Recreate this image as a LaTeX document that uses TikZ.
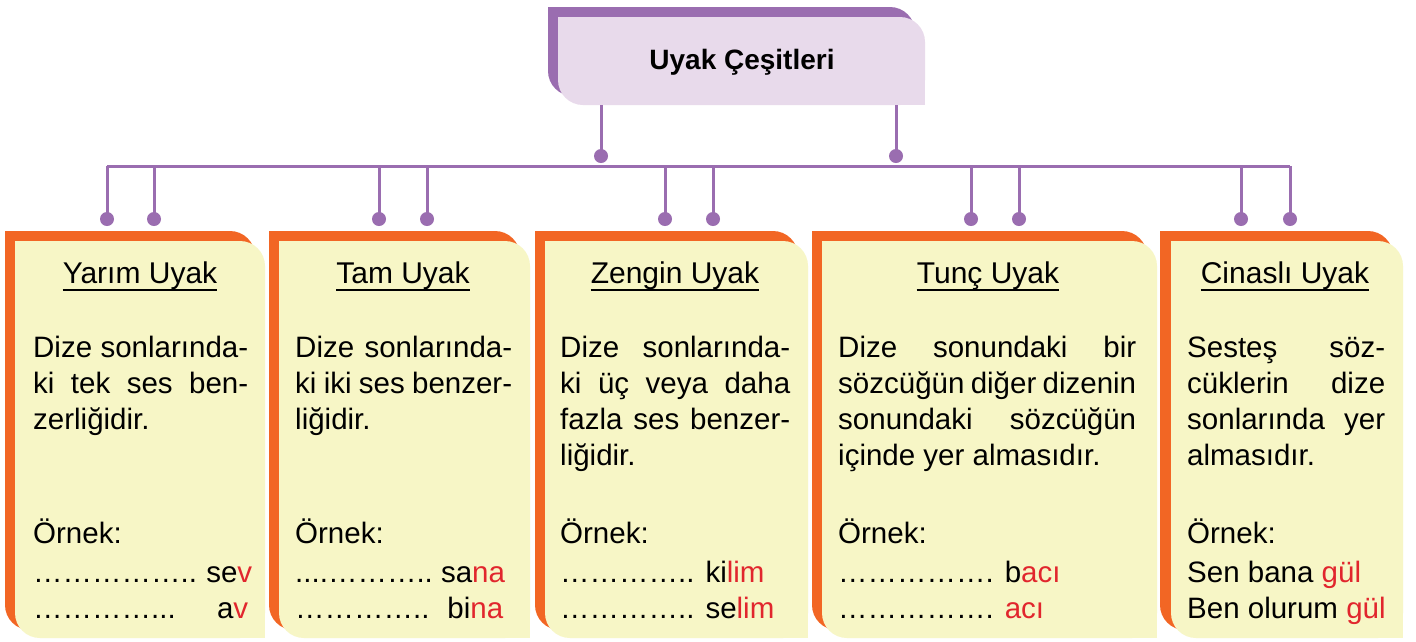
\documentclass[tikz,border=0pt]{standalone}
\usepackage{fontspec}
\setmainfont{Liberation Sans}
\definecolor{purp}{HTML}{9A6DB0}
\definecolor{lpurp}{HTML}{E8DAEB}
\definecolor{orng}{HTML}{F26624}
\definecolor{ylw}{HTML}{F7F6C6}
\definecolor{rd}{HTML}{E1262D}
\newcommand\cornerbox[5]{%
  \fill[#1,rounded corners=25pt] (#2,#3) rectangle (#4,#5);
  \fill[#1] (#2,#3) rectangle ({#2+30},{#3+30});
  \fill[#1] ({#4-30},{#5-30}) rectangle (#4,#5);}
\newcommand\rw[1]{\textcolor{rd}{#1}}
\begin{document}
\begin{tikzpicture}[x=1pt,y=-1pt,
  ln/.style={draw=purp,line width=3pt},
  dotc/.style={fill=purp},
  body/.style={anchor=base west,inner sep=0pt,font=\fontsize{29.5}{36}\selectfont},
  ttl/.style={anchor=base,inner sep=0pt,font=\fontsize{30}{36}\selectfont},
  hdr/.style={inner sep=0pt,font=\fontsize{28}{34}\selectfont\bfseries}]
\useasboundingbox (0,0) rectangle (1416,641);
\fill[white] (0,0) rectangle (1416,641);

% header box
\cornerbox{purp}{548}{7}{915}{96}
\cornerbox{lpurp}{558}{17}{925}{105}
\node[hdr] (head) at (742,62) {Uyak Çeşitleri};

% connectors
\coordinate (hl) at (601,105);
\coordinate (hr) at (896,105);
\coordinate (hld) at (601,156);
\coordinate (hrd) at (896,156);
\draw[ln] (hl) -- (hld);
\draw[ln] (hr) -- (hrd);
\fill[dotc] (hld) circle[radius=7];
\fill[dotc] (hrd) circle[radius=7];
\coordinate (barL) at (107,166);
\coordinate (barR) at (1290,166);
\draw[ln] (barL) -- (barR);
\foreach \x [count=\i] in {107,154,379,427,665,713,971,1019,1241,1290}{
  \coordinate (t\i) at (\x,166);
  \coordinate (d\i) at (\x,219);
  \draw[ln] (t\i) -- (d\i);
  \fill[dotc] (d\i) circle[radius=7];
}

% cards
\cornerbox{orng}{5}{231}{255}{630}
\cornerbox{ylw}{15}{241}{265}{638}
\cornerbox{orng}{269}{231}{520}{630}
\cornerbox{ylw}{279}{241}{530}{638}
\cornerbox{orng}{535}{231}{798}{630}
\cornerbox{ylw}{545}{241}{808}{638}
\cornerbox{orng}{812}{231}{1147}{630}
\cornerbox{ylw}{822}{241}{1157}{638}
\cornerbox{orng}{1160}{231}{1393}{630}
\cornerbox{ylw}{1171}{241}{1403}{638}

% titles
\node[ttl] (c1) at (140,283) {Yarım Uyak};
\node[ttl] (c2) at (403,283) {Tam Uyak};
\node[ttl] (c3) at (675,283) {Zengin Uyak};
\node[ttl] (c4) at (988,283) {Tunç Uyak};
\node[ttl] (c5) at (1285,283) {Cinaslı Uyak};
\foreach \n in {c1,c2,c3,c4,c5}{
  \draw[line width=2pt] ([yshift=-7pt]\n.base west) -- ([yshift=-7pt]\n.base east);
}

% card 1
\node[body] (a11) at (33,357) {\makebox[215pt][s]{Dize sonlarında-}};
\node[body] (a12) at (33,393) {\makebox[215pt][s]{ki tek ses ben-}};
\node[body] (a13) at (33,429) {zerliğidir.};
\node[body] (a14) at (33,543) {Örnek:};
\node[body] (a15) at (33,582) {\makebox[219pt][l]{……………..\hfill\ se\rw{v}}};
\node[body] (a16) at (33,618) {\makebox[215pt][l]{…………...\hfill a\rw{v}}};

% card 2
\node[body] (b11) at (295,357) {\makebox[217pt][s]{Dize sonlarında-}};
\node[body] (b12) at (295,393) {\makebox[217pt][s]{ki iki ses benzer-}};
\node[body] (b13) at (295,429) {liğidir.};
\node[body] (b14) at (295,543) {Örnek:};
\node[body] (b15) at (295,582) {\makebox[208pt][l]{....………..\hfill\ sa\rw{na}}};
\node[body] (b16) at (295,618) {\makebox[208pt][l]{…………..\hfill bi\rw{na}}};

% card 3
\node[body] (e11) at (560,357) {\makebox[230pt][s]{Dize sonlarında-}};
\node[body] (e12) at (560,393) {\makebox[230pt][s]{ki üç veya daha}};
\node[body] (e13) at (560,429) {\makebox[230pt][s]{fazla ses benzer-}};
\node[body] (e14) at (560,465) {liğidir.};
\node[body] (e15) at (560,543) {Örnek:};
\node[body] (e16) at (560,582) {………….. ki\rw{lim}};
\node[body] (e17) at (560,618) {………….. se\rw{lim}};

% card 4
\node[body] (f11) at (838,357) {\makebox[298pt][s]{Dize sonundaki bir}};
\node[body] (f12) at (838,393) {\makebox[298pt][s]{sözcüğün diğer dizenin}};
\node[body] (f13) at (838,429) {\makebox[298pt][s]{sonundaki sözcüğün}};
\node[body] (f14) at (838,465) {içinde yer almasıdır.};
\node[body] (f15) at (838,543) {Örnek:};
\node[body] (f16) at (838,582) {……………. b\rw{acı}};
\node[body] (f17) at (838,618) {……………. \rw{acı}};

% card 5
\node[body] (g11) at (1187,357) {\makebox[198pt][s]{Sesteş söz-}};
\node[body] (g12) at (1187,393) {\makebox[198pt][s]{cüklerin dize}};
\node[body] (g13) at (1187,429) {\makebox[198pt][s]{sonlarında yer}};
\node[body] (g14) at (1187,465) {almasıdır.};
\node[body] (g15) at (1187,543) {Örnek:};
\node[body] (g16) at (1187,582) {Sen bana \rw{gül}};
\node[body] (g17) at (1187,618) {Ben olurum \rw{gül}};
\end{tikzpicture}
\end{document}
